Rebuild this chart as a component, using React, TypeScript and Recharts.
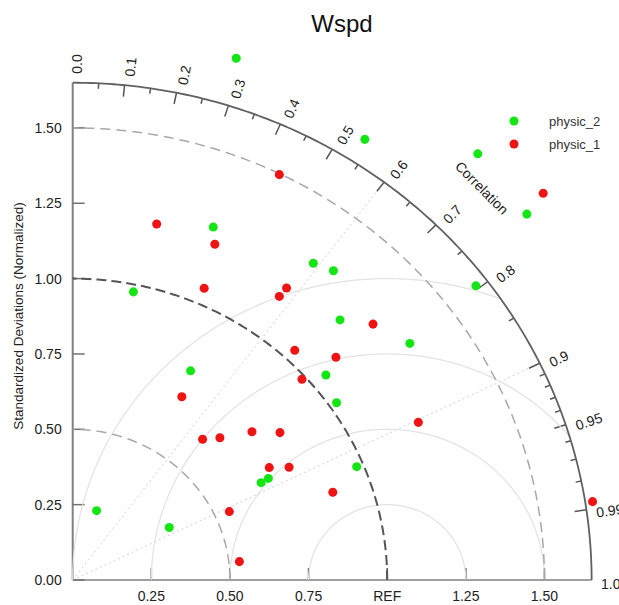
import React from 'react';
import { ScatterChart, Scatter, XAxis, YAxis, ReferenceLine, Customized } from 'recharts';

// ---- data (normalized std dev, plotted as x = sd*corr, y = sd*sqrt(1-corr^2)) ----
const physic2 = [
  { x: 0.520, y: 1.731 }, { x: 0.929, y: 1.462 }, { x: 1.288, y: 1.414 },
  { x: 1.444, y: 1.214 }, { x: 1.282, y: 0.976 }, { x: 0.447, y: 1.171 },
  { x: 0.193, y: 0.956 }, { x: 0.765, y: 1.051 }, { x: 0.375, y: 0.694 },
  { x: 0.829, y: 1.026 }, { x: 0.850, y: 0.863 }, { x: 1.072, y: 0.785 },
  { x: 0.805, y: 0.680 }, { x: 0.839, y: 0.588 }, { x: 0.903, y: 0.376 },
  { x: 0.622, y: 0.337 }, { x: 0.599, y: 0.323 }, { x: 0.076, y: 0.230 },
  { x: 0.307, y: 0.174 },
];
const physic1 = [
  { x: 0.657, y: 1.345 }, { x: 1.496, y: 1.283 }, { x: 0.267, y: 1.181 },
  { x: 0.452, y: 1.114 }, { x: 0.418, y: 0.968 }, { x: 0.657, y: 0.941 },
  { x: 0.680, y: 0.969 }, { x: 0.706, y: 0.762 }, { x: 0.729, y: 0.666 },
  { x: 0.347, y: 0.608 }, { x: 0.955, y: 0.849 }, { x: 0.837, y: 0.739 },
  { x: 1.099, y: 0.523 }, { x: 0.570, y: 0.492 }, { x: 0.659, y: 0.489 },
  { x: 0.625, y: 0.373 }, { x: 0.688, y: 0.374 }, { x: 0.827, y: 0.291 },
  { x: 0.413, y: 0.467 }, { x: 0.468, y: 0.472 }, { x: 0.498, y: 0.227 },
  { x: 0.530, y: 0.061 }, { x: 1.653, y: 0.260 },
];

const stdTicks = [0, 0.25, 0.5, 0.75, 1.0, 1.25, 1.5];
const xTicks = [0.25, 0.5, 0.75, 1.0, 1.25, 1.5];
const corrMajor = [0.1, 0.2, 0.3, 0.4, 0.5, 0.6, 0.7, 0.8, 0.9, 0.95, 0.99];
const corrMinor = [0.05, 0.15, 0.25, 0.35, 0.45, 0.55, 0.65, 0.75, 0.85, 0.91, 0.92, 0.93, 0.94, 0.96, 0.97, 0.98];
const corrLabels = ['0.0', '0.1', '0.2', '0.3', '0.4', '0.5', '0.6', '0.7', '0.8', '0.9', '0.95', '0.99', '1.0'];
const stdArcsLight = [0.5, 1.5];
const refArc = 1.0;
const rmsArcs = [0.25, 0.5, 0.75, 1.0];
const rays = [0.6, 0.9];
const OUTER = 1.65;

const FONT = '"Liberation Sans", Arial, Helvetica, sans-serif';
const GREEN = '#14e614';
const RED = '#ee1414';

// ---- geometry helpers for the diagram's grid ----
const sinOf = (c: number) => Math.sqrt(Math.max(0, 1 - c * c));

function stdArc(r: number) {
  const pts: { x: number; y: number }[] = [];
  for (let a = 0; a <= 180; a++) {
    const t = (a / 180) * (Math.PI / 2);
    pts.push({ x: r * Math.cos(t), y: r * Math.sin(t) });
  }
  return pts;
}

function rmsArc(r: number) {
  const c = (OUTER * OUTER - 1 - r * r) / (2 * r);
  const phiMin = c >= 1 ? 0 : Math.acos(Math.max(-1, c));
  const pts: { x: number; y: number }[] = [];
  const n = 160;
  for (let i = 0; i <= n; i++) {
    const p = phiMin + ((Math.PI - phiMin) * i) / n;
    pts.push({ x: 1 + r * Math.cos(p), y: Math.max(0, r * Math.sin(p)) });
  }
  return pts;
}

const labelData = corrLabels.map((l) => {
  const c = parseFloat(l);
  return { x: 1.68 * c, y: 1.68 * sinOf(c), label: l, deg: (Math.acos(c) * 180) / Math.PI };
});
const corrTitle = [{ x: 1.84 * Math.SQRT1_2, y: 1.84 * Math.SQRT1_2, label: 'Correlation' }];

const Empty = () => <g />;

const CorrLabel = (props: any) => {
  const { cx, cy, payload } = props;
  return (
    <text
      x={cx}
      y={cy}
      dy={4}
      transform={`rotate(${-payload.deg}, ${cx}, ${cy})`}
      dominantBaseline="central"
      textAnchor="start"
      fontSize={14}
      fontFamily={FONT}
      fill="#222"
    >
      {payload.label}
    </text>
  );
};

const CorrTitle = (props: any) => {
  const { cx, cy, payload } = props;
  return (
    <text
      x={cx}
      y={cy}
      transform={`rotate(45, ${cx}, ${cy})`}
      dominantBaseline="central"
      textAnchor="middle"
      fontSize={14}
      fontFamily={FONT}
      fill="#222"
    >
      {payload.label}
    </text>
  );
};

const Annotations = () => (
  <g fontFamily={FONT}>
    <text x={342} y={32} textAnchor="middle" fontSize={24} fill="#111">Wspd</text>
    <text
      x={18}
      y={316}
      transform="rotate(-90, 18, 316)"
      textAnchor="middle"
      dominantBaseline="central"
      fontSize={13.5}
      fill="#222"
    >
      Standardized Deviations (Normalized)
    </text>
    <circle cx={514} cy={121} r={4.5} fill={GREEN} />
    <text x={549} y={121} dominantBaseline="central" fontSize={13} fill="#333">physic_2</text>
    <circle cx={514} cy={144} r={4.5} fill={RED} />
    <text x={549} y={144} dominantBaseline="central" fontSize={13} fill="#333">physic_1</text>
  </g>
);

export default function App() {
  const tickLenMajor = 0.038;
  const tickLenMinor = 0.018;
  return (
    <div style={{ position: 'absolute', left: 0, top: 0, width: 619, height: 605, background: '#fff' }}>
      <ScatterChart
        width={619}
        height={605}
        margin={{ top: 37.5, right: 11.65, bottom: 0, left: 12.7 }}
      >
        <XAxis
          type="number"
          dataKey="x"
          domain={[0, 1.7]}
          ticks={xTicks}
          tickFormatter={(v: number) => (v === 1 ? 'REF' : v.toFixed(2))}
          axisLine={false}
          tickLine={false}
          tickSize={0}
          tickMargin={11}
          height={25}
          interval={0}
          tick={{ fontSize: 14, fill: '#222', fontFamily: FONT }}
        />
        <YAxis
          type="number"
          dataKey="y"
          domain={[0, 1.8]}
          ticks={stdTicks}
          tickFormatter={(v: number) => v.toFixed(2)}
          axisLine={false}
          tickLine={false}
          tickSize={0}
          tickMargin={11}
          width={60}
          interval={0}
          tick={{ fontSize: 14, fill: '#222', fontFamily: FONT }}
        />

        {/* centered RMS difference arcs */}
        {rmsArcs.map((r) => (
          <Scatter
            key={`rms${r}`}
            data={rmsArc(r)}
            line={{ stroke: '#e2e2e2', strokeWidth: 1.2 }}
            lineType="joint"
            shape={Empty}
            isAnimationActive={false}
          />
        ))}

        {/* correlation rays */}
        {rays.map((c) => (
          <ReferenceLine
            key={`ray${c}`}
            segment={[{ x: 0, y: 0 }, { x: OUTER * c, y: OUTER * sinOf(c) }]}
            stroke="#d0d0d0"
            strokeWidth={1}
            strokeDasharray="2 3"
          />
        ))}

        {/* standard deviation arcs */}
        {stdArcsLight.map((r) => (
          <Scatter
            key={`std${r}`}
            data={stdArc(r)}
            line={{ stroke: '#a8a8a8', strokeWidth: 1.5, strokeDasharray: '10 6' }}
            lineType="joint"
            shape={Empty}
            isAnimationActive={false}
          />
        ))}
        <Scatter
          data={stdArc(refArc)}
          line={{ stroke: '#555', strokeWidth: 2, strokeDasharray: '10 5' }}
          lineType="joint"
          shape={Empty}
          isAnimationActive={false}
        />

        {/* outer arc */}
        <Scatter
          data={stdArc(OUTER)}
          line={{ stroke: '#606060', strokeWidth: 1.8 }}
          lineType="joint"
          shape={Empty}
          isAnimationActive={false}
        />

        {/* axes lines */}
        <ReferenceLine segment={[{ x: 0, y: 0 }, { x: 0, y: OUTER }]} stroke="#808080" strokeWidth={2} />
        <ReferenceLine segment={[{ x: 0, y: 0 }, { x: OUTER, y: 0 }]} stroke="#a0a0a0" strokeWidth={2} />

        {/* axis ticks (inward) */}
        {stdTicks.map((t) => (
          <ReferenceLine key={`yt${t}`} segment={[{ x: 0, y: t }, { x: 0.038, y: t }]} stroke="#707070" strokeWidth={1.5} />
        ))}
        {xTicks.map((t) => (
          <ReferenceLine key={`xt${t}`} segment={[{ x: t, y: 0 }, { x: t, y: 0.04 }]} stroke="#555" strokeWidth={1.5} />
        ))}

        {/* correlation ticks */}
        {corrMajor.map((c) => (
          <ReferenceLine
            key={`cM${c}`}
            segment={[
              { x: OUTER * c, y: OUTER * sinOf(c) },
              { x: (OUTER - tickLenMajor) * c, y: (OUTER - tickLenMajor) * sinOf(c) },
            ]}
            stroke="#555"
            strokeWidth={1.5}
          />
        ))}
        {corrMinor.map((c) => (
          <ReferenceLine
            key={`cm${c}`}
            segment={[
              { x: OUTER * c, y: OUTER * sinOf(c) },
              { x: (OUTER - tickLenMinor) * c, y: (OUTER - tickLenMinor) * sinOf(c) },
            ]}
            stroke="#555"
            strokeWidth={1.5}
          />
        ))}

        {/* correlation labels */}
        <Scatter data={labelData} shape={CorrLabel} isAnimationActive={false} />
        <Scatter data={corrTitle} shape={CorrTitle} isAnimationActive={false} />

        {/* data */}
        <Scatter name="physic_2" data={physic2} fill={GREEN} shape="circle" isAnimationActive={false} />
        <Scatter name="physic_1" data={physic1} fill={RED} shape="circle" isAnimationActive={false} />

        <Customized component={Annotations} />
      </ScatterChart>
    </div>
  );
}
